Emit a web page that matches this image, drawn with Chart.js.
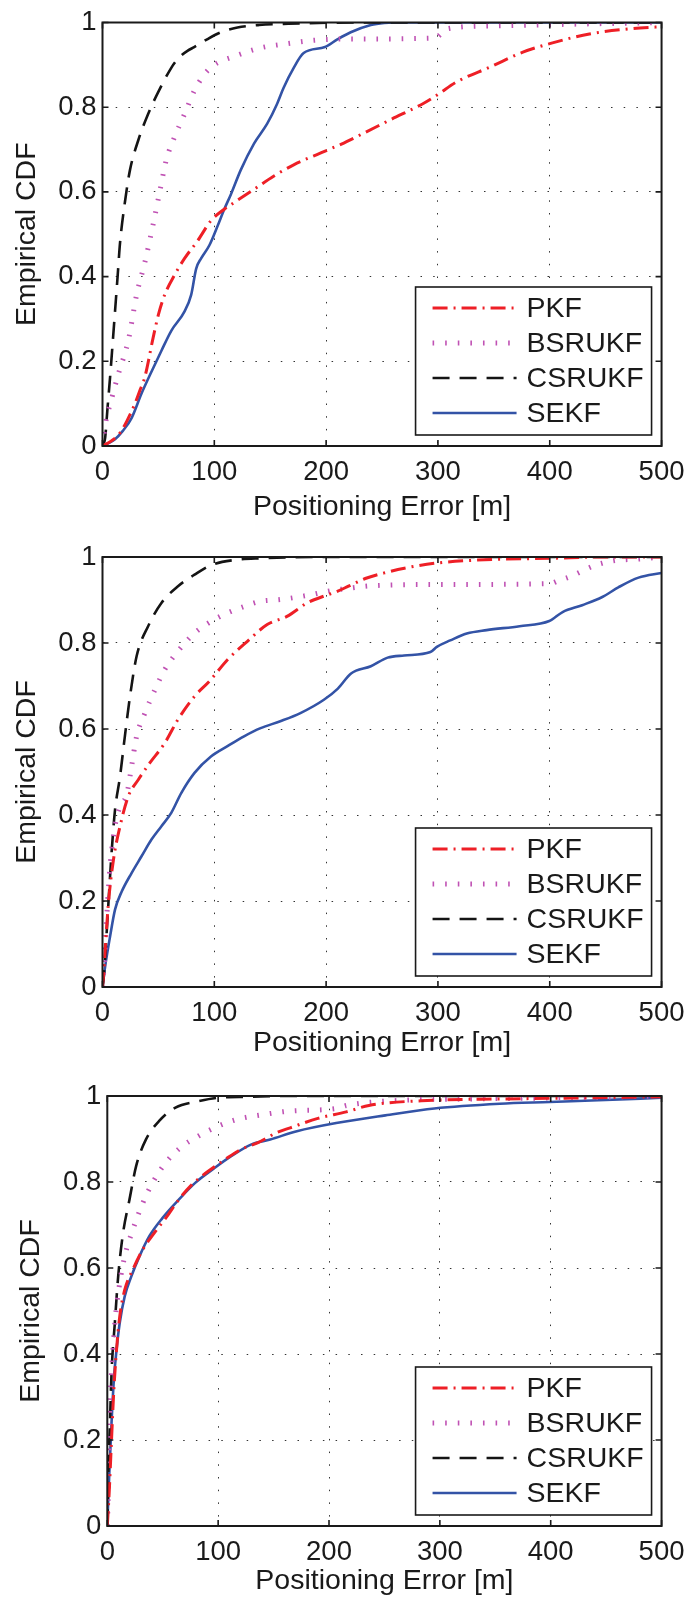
<!DOCTYPE html>
<html>
<head>
<meta charset="utf-8">
<script src="https://cdn.jsdelivr.net/npm/chart.js@4.4.0/dist/chart.umd.min.js"></script>
<style>
  html, body { margin: 0; padding: 0; background: #fff; }
  #page { position: relative; width: 694px; height: 1601px; background: #fff; }
  canvas { position: absolute; left: 0; }
</style>
</head>
<body>
<div id="page">
  <canvas id="cdf1" width="694" height="534" style="top:0px"></canvas>
  <canvas id="cdf2" width="694" height="534" style="top:534px"></canvas>
  <canvas id="cdf3" width="694" height="533" style="top:1068px"></canvas>
</div>
<script>
// --- DATA ---
const seriesNames = ['PKF', 'BSRUKF', 'CSRUKF', 'SEKF'];
const xTicks = [0, 100, 200, 300, 400, 500];
const xTickLabels = ['0', '100', '200', '300', '400', '500'];
const yTicks = [0, 0.2, 0.4, 0.6, 0.8, 1];
const yTickLabels = ['0', '0.2', '0.4', '0.6', '0.8', '1'];
const xTitle = 'Positioning Error [m]';
const yTitle = 'Empirical CDF';

// panel 1  [error m, cdf]
const pkf1 = [[0,0],[8,0.012],[15.7,0.031],[22,0.06],[29,0.1],[34,0.135],[37.9,0.163],[45.3,0.256],[50,0.31],[55.6,0.357],[64.5,0.404],[73.4,0.443],[85.2,0.485],[97,0.532],[108.9,0.559],[117.8,0.575],[135.5,0.606],[153,0.637],[171,0.664],[198,0.695],[213.7,0.713],[228.5,0.732],[258,0.771],[287.7,0.81],[300,0.83],[317,0.86],[346.8,0.895],[376,0.93],[400,0.95],[435.5,0.973],[471,0.985],[500,0.99]];
const bsr1 = [[0,0],[1.5,0.03],[2.8,0.055],[8,0.11],[14.2,0.17],[23,0.248],[30.5,0.357],[38,0.435],[45,0.52],[51,0.598],[57,0.675],[64.5,0.73],[73.4,0.784],[82,0.838],[91,0.877],[100,0.9],[118,0.92],[141,0.94],[165,0.95],[189,0.958],[217,0.961],[297,0.963],[308,0.985],[350,0.992],[420,0.996],[500,1]];
const csr1 = [[0,0],[1,0.005],[2.4,0.02],[4.5,0.09],[6.8,0.163],[9,0.24],[11.2,0.318],[13.5,0.4],[15.7,0.48],[20,0.575],[24.6,0.652],[32,0.722],[40.8,0.784],[49.7,0.835],[61.5,0.893],[66,0.91],[70.4,0.922],[76,0.933],[82,0.942],[94,0.961],[107,0.978],[120.7,0.988],[140,0.994],[166,0.997],[230,1],[500,1]];
const sekf1 = [[0,0],[5,0.006],[11.2,0.016],[18,0.035],[26,0.066],[34.9,0.124],[42.3,0.167],[52.7,0.225],[61.5,0.272],[73.4,0.318],[79.3,0.357],[83.8,0.419],[88.2,0.443],[95.6,0.474],[103,0.52],[108.9,0.559],[114.8,0.594],[123.7,0.652],[135.5,0.714],[147.3,0.761],[156,0.807],[162,0.846],[171,0.893],[179.9,0.928],[199,0.942],[210,0.96],[222,0.977],[240,0.994],[252,0.999],[260,1],[500,1]];

// panel 2
const pkf2 = [[0,0],[1,0.03],[2.4,0.087],[5.3,0.195],[9.8,0.296],[15.7,0.374],[23,0.443],[32,0.482],[42.3,0.521],[55.6,0.567],[67.5,0.622],[82.3,0.676],[95.6,0.711],[111.8,0.761],[129.6,0.804],[147.3,0.843],[165,0.862],[183,0.893],[198,0.909],[208,0.918],[220,0.932],[235,0.95],[252,0.963],[270,0.974],[299,0.986],[328.7,0.992],[358,0.995],[400,0.997],[450,1],[500,1]];
const bsr2 = [[0,0],[1.8,0.064],[3.8,0.164],[6.8,0.281],[11.2,0.374],[15.7,0.42],[21.6,0.447],[26,0.513],[30.5,0.583],[37.9,0.637],[46.8,0.691],[55.6,0.738],[67.5,0.781],[82.3,0.823],[97,0.85],[111.8,0.87],[126.6,0.885],[141.4,0.897],[159,0.901],[186,0.912],[204.7,0.922],[216.5,0.926],[240,0.933],[300,0.936],[400,0.938],[408,0.945],[417,0.953],[441,0.981],[459,0.992],[479,0.995],[500,1]];
const csr2 = [[0,0],[1,0.02],[2.4,0.071],[5.3,0.195],[8.3,0.319],[11.2,0.412],[15.7,0.49],[20,0.583],[24.6,0.676],[30.5,0.769],[40.8,0.839],[52.7,0.893],[67.5,0.932],[82.3,0.959],[97,0.981],[117.8,0.993],[141,0.997],[200,1],[500,1]];
const sekf2 = [[0,0],[2.4,0.048],[6.8,0.118],[11.2,0.18],[17.2,0.222],[26,0.265],[34.9,0.304],[43.8,0.343],[52.7,0.374],[61.5,0.405],[70.4,0.451],[82.3,0.498],[97,0.536],[111.8,0.56],[126.6,0.583],[141.4,0.602],[159,0.618],[177,0.637],[198,0.668],[210.5,0.694],[222.3,0.729],[240,0.746],[255,0.766],[269.7,0.771],[293.3,0.779],[299,0.791],[311,0.806],[325.8,0.822],[343.5,0.83],[373,0.839],[399.6,0.851],[411.5,0.872],[429,0.888],[447,0.907],[461.7,0.93],[479.4,0.952],[500,0.963]];

// panel 3
const pkf3 = [[0,0],[1.8,0.083],[3.8,0.2],[5.9,0.316],[8.3,0.409],[11.2,0.487],[15.7,0.549],[23,0.596],[32,0.643],[42.3,0.681],[52.7,0.716],[64.5,0.759],[76.3,0.794],[91,0.825],[106,0.852],[120.7,0.876],[135.5,0.891],[153,0.915],[165,0.926],[190,0.948],[215.6,0.963],[236,0.978],[295,0.99],[354,0.993],[413,0.995],[500,0.998]];
const bsr3 = [[0,0],[0.9,0.083],[1.8,0.239],[3.8,0.355],[6.8,0.472],[11.2,0.565],[15.7,0.627],[23,0.689],[32,0.751],[40.8,0.798],[52.7,0.845],[67.5,0.883],[82.3,0.907],[100,0.93],[117.8,0.946],[141.4,0.957],[165,0.965],[206.5,0.971],[215.6,0.978],[266,0.99],[325,0.993],[413,0.996],[500,1]];
const csr3 = [[0,0],[0.9,0.122],[2.4,0.239],[3.8,0.355],[6.8,0.472],[9.8,0.58],[14.2,0.681],[20,0.759],[26,0.837],[34.9,0.899],[46.8,0.942],[61.5,0.973],[82.3,0.988],[100,0.996],[126.6,0.998],[160,1],[500,1]];
const sekf3 = [[0,0],[1.8,0.122],[3.8,0.239],[5.9,0.34],[8.3,0.409],[11.2,0.472],[15.7,0.534],[21.6,0.58],[29,0.627],[37.9,0.674],[49.7,0.716],[64.5,0.759],[79.3,0.798],[97,0.833],[111.8,0.86],[129.6,0.887],[147,0.899],[171,0.918],[206.5,0.937],[250.8,0.955],[295,0.971],[354,0.982],[398.8,0.986],[443,0.99],[500,0.996]];

// --- STYLES ---
const FONT = "'Liberation Sans', Arial, Helvetica, sans-serif";
const TICK_SIZE = 27.5;
const TITLE_SIZE = 28.5;
const lineStyles = [
    { color: '#ee1f26', width: 3, dash: [15, 6, 2, 6] },    // PKF  dash-dot
    { color: '#c052b4', width: 5, dash: [1.6, 11] },       // BSRUKF dotted
    { color: '#141414', width: 2.6, dash: [17, 10] },      // CSRUKF dashed
    { color: '#3353a6', width: 2.6, dash: [] }             // SEKF solid
];

// panel placement in page pixels
const panels = [
    { id: 'cdf1', top: 0,    h: 534, left: 102.5, pTop: 17,   right: 666, bottom: 446,  xTitleY: 507,  yTitleX: 27, data: [pkf1, bsr1, csr1, sekf1] },
    { id: 'cdf2', top: 534,  h: 534, left: 102.5, pTop: 557,  right: 667, bottom: 987,  xTitleY: 1043, yTitleX: 27, data: [pkf2, bsr2, csr2, sekf2] },
    { id: 'cdf3', top: 1068, h: 533, left: 107.3, pTop: 1096, right: 671, bottom: 1526, xTitleY: 1581, yTitleX: 31, data: [pkf3, bsr3, csr3, sekf3] }
];

// --- MATLAB-like box, inward ticks and legend ---
const matlabFrame = {
    id: 'matlabFrame',
    afterDatasetsDraw(chart) {
        const { ctx, chartArea: a, scales } = chart;
        ctx.save();
        ctx.setLineDash([]);
        ctx.strokeStyle = '#1a1a1a';
        ctx.lineWidth = 1.6;
        const tl = 6;
        ctx.beginPath();
        xTicks.forEach(v => {
            const px = scales.x.getPixelForValue(v);
            ctx.moveTo(px, a.bottom); ctx.lineTo(px, a.bottom - tl);
            ctx.moveTo(px, a.top); ctx.lineTo(px, a.top + tl);
        });
        yTicks.forEach(v => {
            const py = scales.y.getPixelForValue(v);
            ctx.moveTo(a.left, py); ctx.lineTo(a.left + tl, py);
            ctx.moveTo(a.right, py); ctx.lineTo(a.right - tl, py);
        });
        ctx.stroke();
        ctx.lineWidth = 2;
        ctx.strokeRect(a.left, a.top, a.right - a.left, a.bottom - a.top);
        ctx.restore();
    },
    afterDraw(chart) {
        const { ctx, chartArea: a } = chart;
        const w = 236, h = 148;
        const bx = a.right - 10 - w, by = a.bottom - 11 - h;
        ctx.save();
        ctx.fillStyle = '#fff';
        ctx.fillRect(bx, by, w, h);
        ctx.strokeStyle = '#1a1a1a';
        ctx.lineWidth = 1.6;
        ctx.setLineDash([]);
        ctx.strokeRect(bx, by, w, h);
        chart.data.datasets.forEach((ds, i) => {
            const y = by + 21 + i * 35;
            ctx.beginPath();
            ctx.setLineDash(ds.borderDash);
            ctx.strokeStyle = ds.borderColor;
            ctx.lineWidth = ds.borderWidth;
            ctx.moveTo(bx + 17, y);
            ctx.lineTo(bx + 101, y);
            ctx.stroke();
            ctx.setLineDash([]);
            ctx.fillStyle = '#1a1a1a';
            ctx.font = `${TITLE_SIZE}px ${FONT}`;
            ctx.textBaseline = 'middle';
            ctx.textAlign = 'left';
            ctx.fillText(ds.label, bx + 111, y + 1);
        });
        ctx.restore();
    }
};

function makeChart(p) {
    const datasets = seriesNames.map((name, i) => ({
        label: name,
        data: p.data[i].map(d => ({ x: d[0], y: d[1] })),
        borderColor: lineStyles[i].color,
        borderWidth: lineStyles[i].width,
        borderDash: lineStyles[i].dash,
        borderCapStyle: 'butt',
        pointRadius: 0,
        fill: false,
        cubicInterpolationMode: 'monotone'
    }));

    const gridDash = [1.5, 11.2];
    const half = TITLE_SIZE * 1.2 / 2;
    return new Chart(document.getElementById(p.id), {
        type: 'line',
        data: { datasets },
        options: {
            responsive: false,
            animation: false,
            events: [],
            layout: { padding: { top: p.pTop - p.top, right: 694 - p.right, left: 0, bottom: 0 } },
            plugins: { legend: { display: false }, tooltip: { enabled: false } },
            scales: {
                x: {
                    type: 'linear', min: 0, max: 500,
                    afterBuildTicks: s => { s.ticks = xTicks.map(v => ({ value: v })); },
                    afterFit: s => { s.height = p.h - (p.bottom - p.top); },
                    ticks: {
                        color: '#1a1a1a', padding: 9.5, maxRotation: 0,
                        font: { family: FONT, size: TICK_SIZE },
                        callback: (v) => xTickLabels[xTicks.indexOf(v)]
                    },
                    grid: { color: '#333', lineWidth: 1, drawTicks: false, borderDash: gridDash },
                    border: { display: false, dash: gridDash },
                    title: {
                        display: true, text: xTitle, color: '#1a1a1a',
                        font: { family: FONT, size: TITLE_SIZE },
                        padding: { top: 0, bottom: p.h - (p.xTitleY - p.top) - half }
                    }
                },
                y: {
                    type: 'linear', min: 0, max: 1,
                    afterBuildTicks: s => { s.ticks = yTicks.map(v => ({ value: v })); },
                    afterFit: s => { s.width = p.left; },
                    ticks: {
                        color: '#1a1a1a', padding: 6,
                        font: { family: FONT, size: TICK_SIZE },
                        callback: (v) => yTickLabels[yTicks.indexOf(v)]
                    },
                    grid: { color: '#333', lineWidth: 1, drawTicks: false, borderDash: gridDash },
                    border: { display: false, dash: gridDash },
                    title: {
                        display: true, text: yTitle, color: '#1a1a1a',
                        font: { family: FONT, size: TITLE_SIZE },
                        padding: { top: p.yTitleX - half, bottom: 0 }
                    }
                }
            }
        },
        plugins: [matlabFrame]
    });
}

panels.forEach(makeChart);
</script>
</body>
</html>
